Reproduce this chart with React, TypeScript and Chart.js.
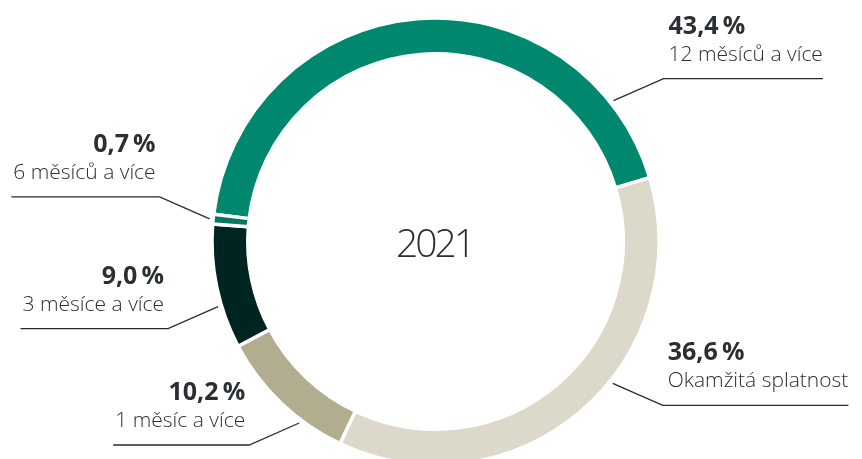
import React, { useEffect, useRef } from "react";
import { Chart, registerables } from "chart.js";

Chart.register(...registerables);

const categories = [
  "12 měsíců a více",
  "Okamžitá splatnost",
  "1 měsíc a více",
  "3 měsíce a více",
  "6 měsíců a více",
];
const shares = [43.4, 36.6, 10.2, 9.0, 0.7];
const colors = ["#00886f", "#dcd9cb", "#b1ad8e", "#00241f", "#0a7563"];
const centerLabel = "2021";
// where along each arc the leader line starts (fraction of the arc)
const anchorFractions = [0.861, 0.419, 0.316, 0.348, 0.5];

const FONT = "'Open Sans', 'Noto Sans', sans-serif";
const TEXT = "#2a2f33";
const DESC_FONT = `300 21px ${FONT}`;
const PCT_FONT = `700 25px ${FONT}`;

const fmt = (v: number) => v.toFixed(1).replace(".", ",") + "\u2009%";

const labelPlugin = {
  id: "leaderLabels",
  afterDraw(chart: any) {
    const ctx = chart.ctx as CanvasRenderingContext2D;
    const meta = chart.getDatasetMeta(0);
    const arcs = meta.data as any[];
    ctx.save();
    arcs.forEach((arc, i) => {
      const { x, y, startAngle, endAngle, outerRadius } = arc.getProps(
        ["x", "y", "startAngle", "endAngle", "outerRadius"],
        true
      );
      const a = startAngle + anchorFractions[i] * (endAngle - startAngle);
      const r = outerRadius + 3.5;
      const ax = x + Math.cos(a) * r;
      const ay = y + Math.sin(a) * r;
      const right = Math.cos(a) >= 0;
      const up = Math.sin(a) < 0;
      const ex = ax + (right ? 50 : -50);
      const ey = ay + (up ? -22 : 22);

      ctx.font = DESC_FONT;
      const descW = ctx.measureText(categories[i]).width;
      ctx.font = PCT_FONT;
      const pctW = ctx.measureText(fmt(shares[i])).width;
      const textW = Math.max(descW, pctW);

      const descBase = ey - 18;
      const pctBase = descBase - 27;
      let tx: number;
      let lineEnd: number;
      if (right) {
        tx = ex + 5;
        lineEnd = tx + textW;
      } else {
        tx = ex - 4;
        lineEnd = tx - textW - 2;
      }

      ctx.strokeStyle = "#2b2b2b";
      ctx.lineWidth = 1.3;
      ctx.beginPath();
      ctx.moveTo(ax, ay);
      ctx.lineTo(ex, ey);
      ctx.lineTo(lineEnd, ey);
      ctx.stroke();

      ctx.fillStyle = TEXT;
      ctx.textAlign = right ? "left" : "right";
      ctx.textBaseline = "alphabetic";
      ctx.font = PCT_FONT;
      ctx.fillText(fmt(shares[i]), tx, pctBase);
      ctx.font = DESC_FONT;
      ctx.fillText(categories[i], tx, descBase);
    });

    const first = arcs[0];
    ctx.fillStyle = TEXT;
    ctx.textAlign = "center";
    ctx.textBaseline = "alphabetic";
    ctx.font = `300 39px ${FONT}`;
    (ctx as any).letterSpacing = "-3px";
    ctx.fillText(centerLabel, first.x - 1, first.y + 15);
    ctx.restore();
  },
};

export default function App() {
  const ref = useRef<HTMLCanvasElement | null>(null);
  useEffect(() => {
    document.body.style.margin = "0";
    if (!ref.current) return;
    const chart = new Chart(ref.current, {
      type: "doughnut",
      data: {
        labels: categories,
        datasets: [
          {
            data: shares,
            backgroundColor: colors,
            borderColor: "#ffffff",
            borderWidth: 3.5,
            hoverOffset: 0,
          },
        ],
      },
      options: {
        responsive: false,
        maintainAspectRatio: false,
        animation: false,
        rotation: -83,
        radius: 223.5,
        cutout: "84%",
        layout: { padding: { left: 9, right: 0, top: 0, bottom: 0 } },
        plugins: {
          legend: { display: false },
          tooltip: { enabled: false },
        },
      },
      plugins: [labelPlugin],
    });
    return () => chart.destroy();
  }, []);
  return (
    <div
      style={{
        position: "fixed",
        left: 0,
        top: 0,
        width: 862,
        height: 459,
        overflow: "hidden",
        background: "#fff",
      }}
    >
      <canvas ref={ref} width={862} height={483} />
    </div>
  );
}
